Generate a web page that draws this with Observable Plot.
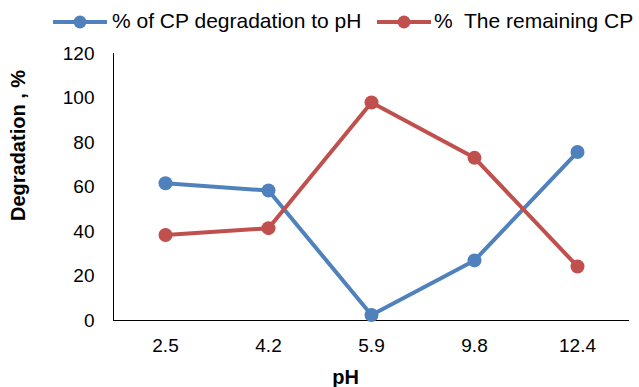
<!DOCTYPE html>
<html>
<head>
<meta charset="utf-8">
<script src="https://cdn.jsdelivr.net/npm/d3@7"></script>
<script src="https://cdn.jsdelivr.net/npm/@observablehq/plot@0.6"></script>
<style>
  body { margin: 0; background: white; font-family: "Liberation Sans", Arial, sans-serif; }
  #legend { position: relative; width: 639px; height: 44px; font-size: 21px; color: #000; }
  #legend span { position: absolute; top: 9px; line-height: 24px; white-space: pre; }
  #legend svg { position: absolute; top: 15px; }
</style>
</head>
<body>
<div id="legend"></div>
<div id="chart"></div>
<script>
const categories = ["2.5", "4.2", "5.9", "9.8", "12.4"];
const seriesNames = ["% of CP degradation to pH", "%  The remaining CP"];
const seriesColors = ["#4F81BD", "#C0504D"];
const degradation = [61.7, 58.4, 2.5, 27.0, 75.7];
const remaining = [38.4, 41.5, 98.0, 73.1, 24.3];
const yTicks = [0, 20, 40, 60, 80, 100, 120];

const rows = [];
categories.forEach((c, i) => rows.push({ph: c, value: degradation[i], series: seriesNames[0]}));
categories.forEach((c, i) => rows.push({ph: c, value: remaining[i], series: seriesNames[1]}));

// legend
const legend = document.getElementById("legend");
const legendPos = [{sw: 53, tx: 112}, {sw: 377, tx: 434}];
seriesNames.forEach((name, i) => {
  const ns = "http://www.w3.org/2000/svg";
  const svg = document.createElementNS(ns, "svg");
  svg.setAttribute("width", 54); svg.setAttribute("height", 14);
  svg.style.left = legendPos[i].sw + "px";
  const line = document.createElementNS(ns, "line");
  line.setAttribute("x1", 0); line.setAttribute("x2", 54);
  line.setAttribute("y1", 7); line.setAttribute("y2", 7);
  line.setAttribute("stroke", seriesColors[i]); line.setAttribute("stroke-width", 4);
  const circ = document.createElementNS(ns, "circle");
  circ.setAttribute("cx", 27); circ.setAttribute("cy", 7); circ.setAttribute("r", 6.5);
  circ.setAttribute("fill", seriesColors[i]);
  svg.appendChild(line); svg.appendChild(circ);
  legend.appendChild(svg);
  const span = document.createElement("span");
  span.textContent = name;
  span.style.left = legendPos[i].tx + "px";
  legend.appendChild(span);
});

const chart = Plot.plot({
  width: 639,
  height: 343,
  marginTop: 9,
  marginBottom: 67,
  marginLeft: 113,
  marginRight: 10,
  style: {fontFamily: "Liberation Sans, Arial, sans-serif", fontSize: "19px", color: "#000", background: "white", overflow: "visible"},
  x: {type: "point", domain: categories, padding: 0.5},
  y: {domain: [0, 120]},
  color: {domain: seriesNames, range: seriesColors},
  marks: [
    Plot.axisX({tickSize: 0, tickPadding: 18, label: null, fontSize: 19}),
    Plot.axisY({ticks: yTicks, tickSize: 0, tickPadding: 19, label: null, fontSize: 19}),
    Plot.frame({anchor: "left", stroke: "#000", strokeWidth: 1}),
    Plot.ruleY([0], {stroke: "#000", strokeWidth: 1}),
    Plot.line(rows, {x: "ph", y: "value", z: "series", stroke: "series", strokeWidth: 4}),
    Plot.dot(rows, {x: "ph", y: "value", fill: "series", r: 7}),
    Plot.text(["pH"], {text: d => d, frameAnchor: "bottom", lineAnchor: "middle", textAnchor: "middle", dx: -26, dy: 57, fontWeight: "bold", fontSize: 20}),
    Plot.text(["Degradation , %"], {text: d => d, frameAnchor: "left", lineAnchor: "middle", textAnchor: "middle", rotate: -90, dx: -95, dy: -41.5, fontWeight: "bold", fontSize: 20})
  ]
});
document.getElementById("chart").appendChild(chart);
</script>
</body>
</html>
